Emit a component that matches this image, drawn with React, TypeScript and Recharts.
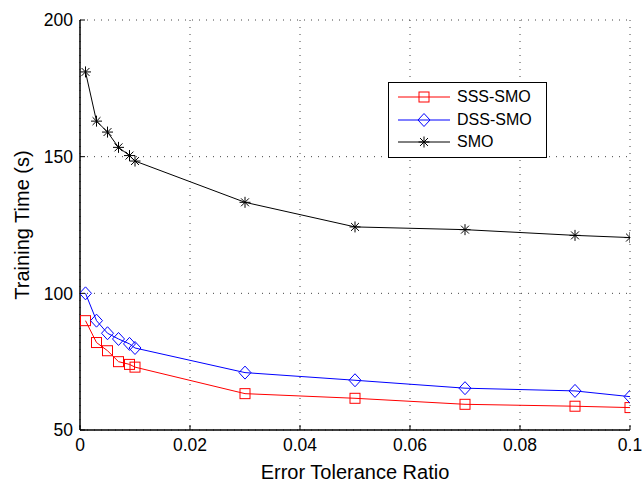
import React from 'react';
import {
  LineChart,
  Line,
  XAxis,
  YAxis,
  CartesianGrid,
} from 'recharts';

const ratios = [0.001, 0.003, 0.005, 0.007, 0.009, 0.01, 0.03, 0.05, 0.07, 0.09, 0.1];
const sssSmo = [90, 82, 79, 75, 74, 73, 63.3, 61.6, 59.4, 58.7, 58.2];
const dssSmo = [100, 90, 85.4, 83.3, 81.5, 80, 71, 68.2, 65.3, 64.3, 62.2];
const smo = [181, 163, 159, 153.4, 150.4, 148.4, 133.3, 124.3, 123.3, 121.2, 120.4];

const xTicks = [0, 0.02, 0.04, 0.06, 0.08, 0.1];
const yTicks = [50, 100, 150, 200];

const FONT = '"Liberation Sans", Arial, Helvetica, sans-serif';

const data = ratios.map((r, i) => ({
  ratio: r,
  sss: sssSmo[i],
  dss: dssSmo[i],
  smo: smo[i],
}));

const series = [
  { key: 'sss', name: 'SSS-SMO', color: '#ff0000', marker: 'square' },
  { key: 'dss', name: 'DSS-SMO', color: '#0000ff', marker: 'diamond' },
  { key: 'smo', name: 'SMO', color: '#000000', marker: 'star' },
];

function Marker({ kind, cx, cy, color }: { kind: string; cx: number; cy: number; color: string }) {
  if (kind === 'square') {
    return <rect x={cx - 5} y={cy - 5} width={10} height={10} fill="none" stroke={color} strokeWidth={1} />;
  }
  if (kind === 'diamond') {
    const pts = [
      [cx, cy - 6.5],
      [cx + 6, cy],
      [cx, cy + 6.5],
      [cx - 6, cy],
    ]
      .map((p) => p.join(','))
      .join(' ');
    return <polygon points={pts} fill="none" stroke={color} strokeWidth={1} />;
  }
  const r = 5.5;
  const d = r * 0.72;
  return (
    <g stroke={color} strokeWidth={1}>
      <line x1={cx} y1={cy - r} x2={cx} y2={cy + r} />
      <line x1={cx - r} y1={cy} x2={cx + r} y2={cy} />
      <line x1={cx - d} y1={cy - d} x2={cx + d} y2={cy + d} />
      <line x1={cx - d} y1={cy + d} x2={cx + d} y2={cy - d} />
    </g>
  );
}

function LegendBox() {
  return (
    <div
      style={{
        position: 'absolute',
        left: 388,
        top: 82,
        border: '1.5px solid #000',
        background: '#fff',
        width: 157,
        padding: '3px 0',
        fontFamily: FONT,
        fontSize: 16,
        color: '#000',
      }}
    >
      {series.map((s) => (
        <div key={s.key} style={{ display: 'flex', alignItems: 'center', height: 22.5 }}>
          <svg width={68} height={20} style={{ flex: 'none' }}>
            <line x1={9} y1={10} x2={61} y2={10} stroke={s.color} strokeWidth={1} />
            <Marker kind={s.marker} cx={35} cy={10} color={s.color} />
          </svg>
          <span>{s.name}</span>
        </div>
      ))}
    </div>
  );
}

const noTick = () => <g />;

export default function App() {
  return (
    <div style={{ position: 'absolute', left: 0, top: 0, width: 642, height: 482, background: '#fff' }}>
      <LineChart
        width={642}
        height={482}
        data={data}
        margin={{ top: 20, right: 12, bottom: 0, left: 0 }}
      >
        <CartesianGrid
          xAxisId="x"
          yAxisId="y"
          stroke="#444"
          strokeDasharray="1 6"
          verticalValues={xTicks}
          horizontalValues={yTicks}
        />
        <XAxis
          xAxisId="x"
          dataKey="ratio"
          type="number"
          domain={[0, 0.1]}
          ticks={xTicks}
          allowDataOverflow
          height={52}
          tickSize={-5}
          tickMargin={14}
          axisLine={{ stroke: '#000', strokeWidth: 1.5 }}
          tickLine={{ stroke: '#000' }}
          tick={{ fill: '#000', fontSize: 17.5, fontFamily: FONT }}
          label={{ value: 'Error Tolerance Ratio', position: 'insideBottom', offset: 3, fill: '#000', fontSize: 20, fontFamily: FONT }}
        />
        <XAxis
          xAxisId="top"
          dataKey="ratio"
          type="number"
          orientation="top"
          domain={[0, 0.1]}
          ticks={xTicks}
          height={0}
          tickSize={-5}
          axisLine={{ stroke: '#000', strokeWidth: 1.5 }}
          tickLine={{ stroke: '#000' }}
          tick={noTick}
        />
        <YAxis
          yAxisId="y"
          type="number"
          domain={[50, 200]}
          ticks={yTicks}
          width={80}
          tickSize={-5}
          tickMargin={12}
          axisLine={{ stroke: '#000', strokeWidth: 1.5 }}
          tickLine={{ stroke: '#000' }}
          tick={{ fill: '#000', fontSize: 17.5, fontFamily: FONT }}
          label={{ value: 'Training Time (s)', angle: -90, position: 'insideLeft', offset: 22, fill: '#000', fontSize: 20, fontFamily: FONT, style: { textAnchor: 'middle' } }}
        />
        <YAxis
          yAxisId="right"
          type="number"
          orientation="right"
          domain={[50, 200]}
          ticks={yTicks}
          width={0}
          tickSize={-5}
          axisLine={{ stroke: '#000', strokeWidth: 1.5 }}
          tickLine={{ stroke: '#000' }}
          tick={noTick}
        />
        {series.map((s) => (
          <Line
            key={s.key}
            xAxisId="x"
            yAxisId="y"
            type="linear"
            dataKey={s.key}
            name={s.name}
            stroke={s.color}
            strokeWidth={1}
            isAnimationActive={false}
            dot={(p: any) => (
              <Marker key={`${s.key}-${p.index}`} kind={s.marker} cx={p.cx} cy={p.cy} color={s.color} />
            )}
            activeDot={false}
          />
        ))}
      </LineChart>
      <LegendBox />
    </div>
  );
}
